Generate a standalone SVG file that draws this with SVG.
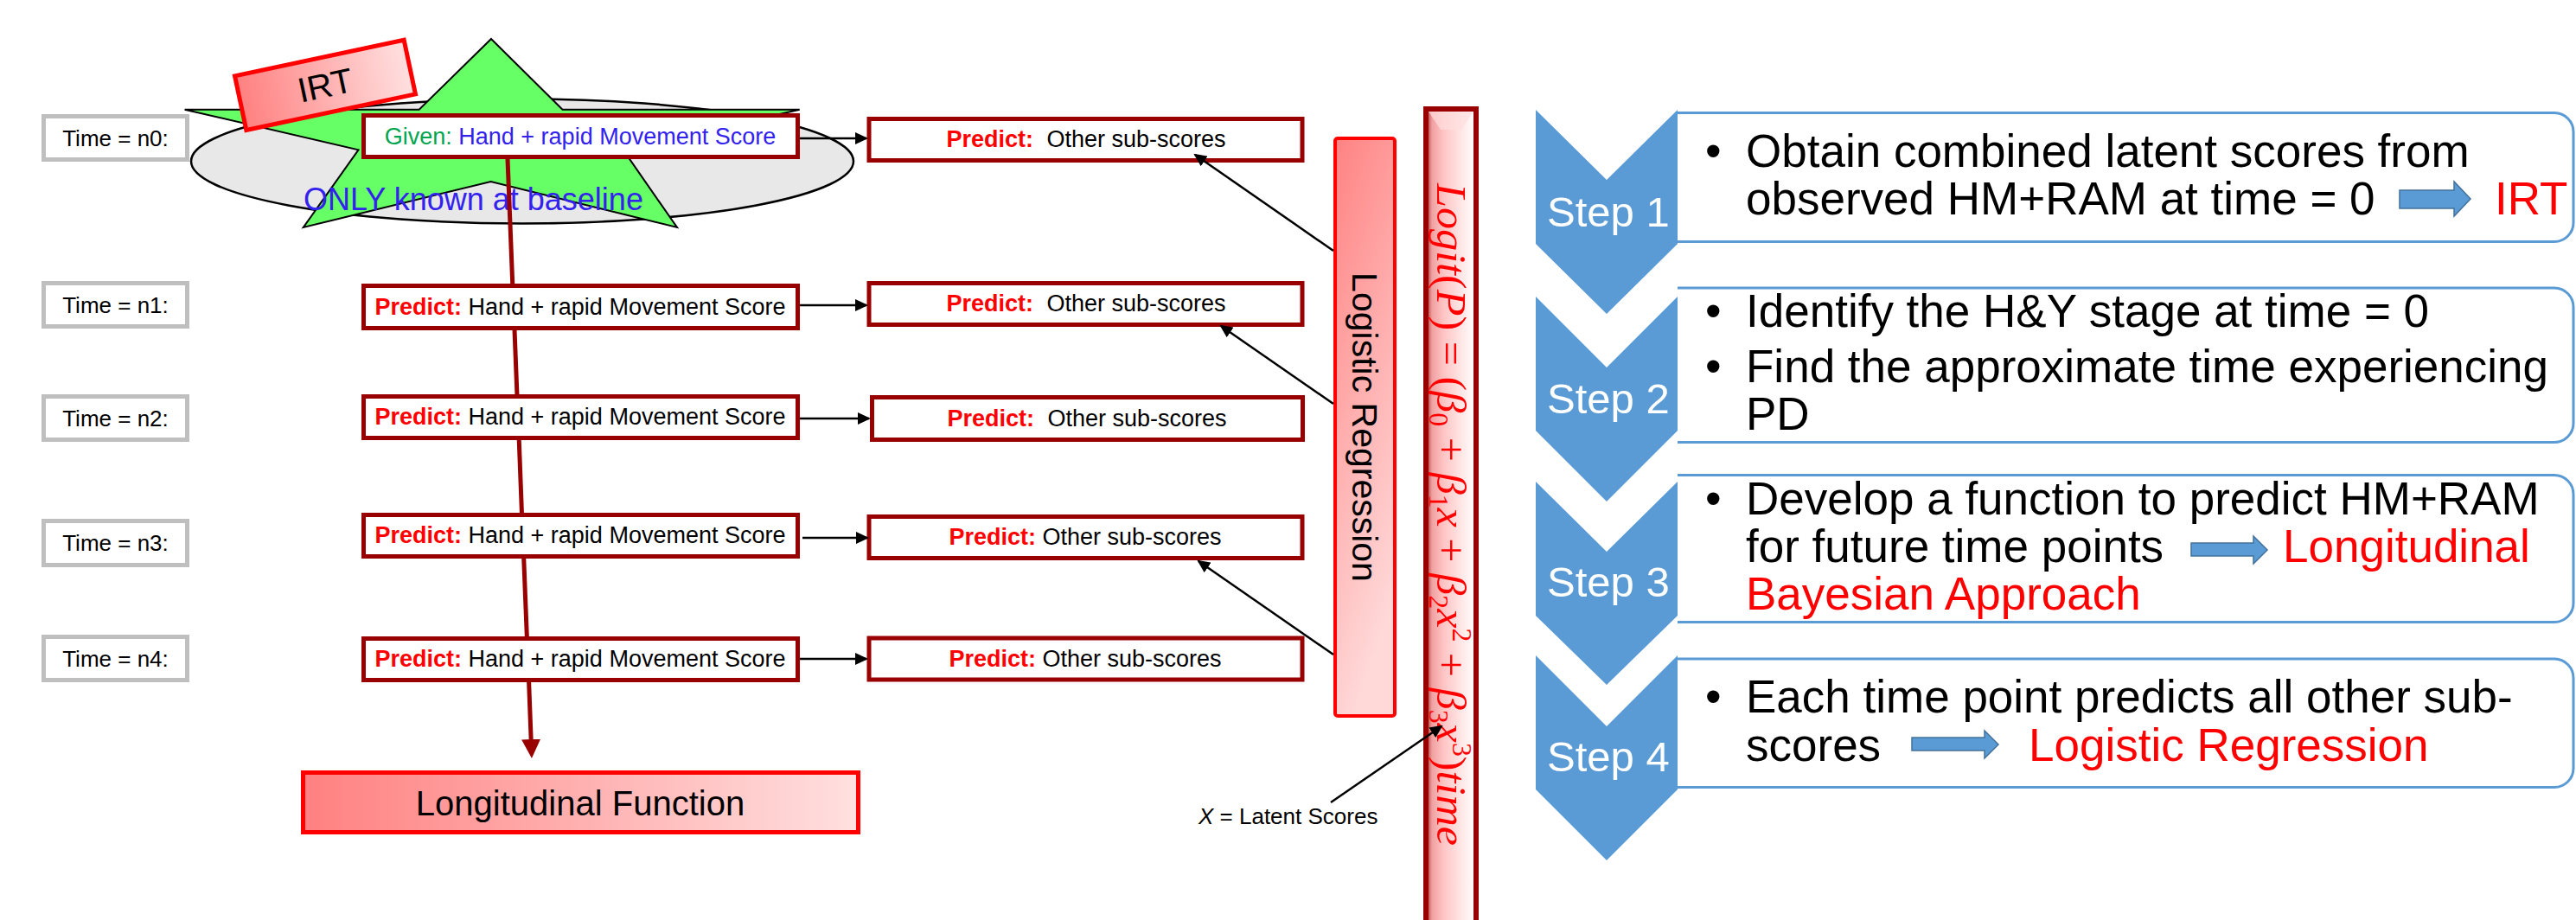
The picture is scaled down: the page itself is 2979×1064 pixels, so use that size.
<svg xmlns="http://www.w3.org/2000/svg" width="2979" height="1064" viewBox="0 0 2979 1064">
<defs>
<style>
text{font-family:"Liberation Sans",Arial,sans-serif;}
.timebox{fill:#fff;stroke:#bfbfbf;stroke-width:5;}
.hmbox{fill:#fff;stroke:#990000;stroke-width:5;}
.tl{font-size:26px;fill:#000;text-anchor:middle;}
.bt{font-size:27px;fill:#000;text-anchor:middle;}
.pred{font-weight:bold;fill:#ff0000;}
.blue{fill:#3322ee;}
.green{fill:#00a550;}
.conn{stroke:#000;stroke-width:2.5;fill:none;}
.long{stroke:#990000;stroke-width:5;fill:none;}
.chev{fill:#5b9bd5;}
.stepbox{fill:#fff;stroke:#5b9bd5;stroke-width:3;}
.steplabel{font-size:49px;fill:#fff;}
.body{font-size:53px;fill:#000;}
.red{fill:#ff0000;}
.barrow{fill:#5b9bd5;stroke:#41719c;stroke-width:1.5;}
.eq{font-family:"Liberation Serif","Times New Roman",serif;font-style:italic;font-size:49px;fill:#ff0000;}
.up{font-style:normal;}
.sub{font-style:normal;font-size:31px;}
</style>
<linearGradient id="gRed" x1="0" y1="0" x2="1" y2="0"><stop offset="0" stop-color="#ff8080"/><stop offset="1" stop-color="#ffe0e0"/></linearGradient>
<linearGradient id="gLR" x1="0" y1="0" x2="0.3" y2="1"><stop offset="0" stop-color="#ff8282"/><stop offset="1" stop-color="#ffd8d8"/></linearGradient>
<linearGradient id="gLogit" x1="0" y1="0" x2="1" y2="0"><stop offset="0" stop-color="#a82828"/><stop offset="0.12" stop-color="#f0a0a0"/><stop offset="0.35" stop-color="#ffc4c4"/><stop offset="0.7" stop-color="#ffe6e6"/><stop offset="1" stop-color="#ffffff"/></linearGradient>
<marker id="ahBlack" markerUnits="userSpaceOnUse" markerWidth="16" markerHeight="14" refX="13" refY="7" orient="auto"><path d="M0,0 L15,7 L0,14 z" fill="#000"/></marker>
<marker id="ahRed" markerUnits="userSpaceOnUse" markerWidth="24" markerHeight="24" refX="2" refY="11" orient="auto"><path d="M0,0 L22,11 L0,22 z" fill="#990000"/></marker>
</defs>
<rect width="2979" height="1064" fill="#fff"/>

<g id="baseline-marker">
<ellipse cx="604" cy="186.5" rx="383" ry="72" fill="#e8e8e8" stroke="#000" stroke-width="2.5"/>
<polygon points="568,45 650.5,126.7 924.7,126.7 720.7,173.3 783,263 567.6,210 350.8,263 414.5,173.3 213.6,126.7 484.7,126.7" fill="#66ff66" stroke="#000" stroke-width="2"/>
</g>

<g id="irt">
<g transform="translate(376,98.4) rotate(-12)">
<rect x="-100" y="-32" width="200" height="64" fill="url(#gRed)" stroke="#ff0000" stroke-width="5"/>
<text x="0" y="14" font-size="40" text-anchor="middle" fill="#000">IRT</text>
</g>
</g>

<g id="time-n0"><rect class="timebox" x="50.5" y="134.5" width="166" height="50"/><text class="tl" x="133.5" y="168.5">Time = n0:</text></g>
<g id="time-n1"><rect class="timebox" x="50.5" y="327.5" width="166" height="50"/><text class="tl" x="133.5" y="361.5">Time = n1:</text></g>
<g id="time-n2"><rect class="timebox" x="50.5" y="458.5" width="166" height="50"/><text class="tl" x="133.5" y="492.5">Time = n2:</text></g>
<g id="time-n3"><rect class="timebox" x="50.5" y="602.5" width="166" height="51"/><text class="tl" x="133.5" y="637">Time = n3:</text></g>
<g id="time-n4"><rect class="timebox" x="50.5" y="736.5" width="166" height="50"/><text class="tl" x="133.5" y="770.5">Time = n4:</text></g>

<g id="hm-n0"><rect class="hmbox" x="420.5" y="133.5" width="502" height="48"/><text class="bt" x="671" y="166.5"><tspan class="green">Given: </tspan><tspan class="blue">Hand + rapid Movement Score</tspan></text></g>
<g id="hm-n1"><rect class="hmbox" x="420.5" y="330.5" width="502" height="49"/><text class="bt" x="671" y="364"><tspan class="pred">Predict:</tspan> Hand + rapid Movement Score</text></g>
<g id="hm-n2"><rect class="hmbox" x="420.5" y="458.5" width="502" height="48"/><text class="bt" x="671" y="491"><tspan class="pred">Predict:</tspan> Hand + rapid Movement Score</text></g>
<g id="hm-n3"><rect class="hmbox" x="420.5" y="595.5" width="502" height="48"/><text class="bt" x="671" y="628"><tspan class="pred">Predict:</tspan> Hand + rapid Movement Score</text></g>
<g id="hm-n4"><rect class="hmbox" x="420.5" y="738.5" width="502" height="48"/><text class="bt" x="671" y="771"><tspan class="pred">Predict:</tspan> Hand + rapid Movement Score</text></g>

<g id="baseline-label"><text x="351" y="243" font-size="36" class="blue">ONLY known at baseline</text></g>

<g id="other-n0"><rect class="hmbox" x="1005" y="137.5" width="501" height="48"/><text class="bt" x="1256" y="170"><tspan class="pred">Predict:</tspan><tspan dx="8"> Other sub-scores</tspan></text></g>
<g id="other-n1"><rect class="hmbox" x="1005" y="327.5" width="501" height="48"/><text class="bt" x="1256" y="360"><tspan class="pred">Predict:</tspan><tspan dx="8"> Other sub-scores</tspan></text></g>
<g id="other-n2"><rect class="hmbox" x="1008.5" y="459.5" width="498" height="49"/><text class="bt" x="1257" y="492.5"><tspan class="pred">Predict:</tspan><tspan dx="8"> Other sub-scores</tspan></text></g>
<g id="other-n3"><rect class="hmbox" x="1005" y="597.5" width="501" height="48"/><text class="bt" x="1255" y="630"><tspan class="pred">Predict:</tspan> Other sub-scores</text></g>
<g id="other-n4"><rect class="hmbox" x="1005" y="738" width="501" height="48"/><text class="bt" x="1255" y="770.5"><tspan class="pred">Predict:</tspan> Other sub-scores</text></g>

<g id="longitudinal-function"><rect x="350.5" y="893.5" width="642" height="69" fill="url(#gRed)" stroke="#ff0000" stroke-width="5"/><text x="671" y="943" font-size="40" text-anchor="middle" fill="#000">Longitudinal  Function</text></g>

<g id="logistic-regression"><rect x="1544" y="160" width="69" height="668" rx="3" fill="url(#gLR)" stroke="#ff0000" stroke-width="4"/><text transform="translate(1564,494) rotate(90)" font-size="41" text-anchor="middle" fill="#000">Logistic Regression</text></g>

<g id="logit-equation">
<rect x="1649" y="126" width="58" height="960" fill="url(#gLogit)" stroke="#990000" stroke-width="6"/>
<polygon points="1652,129 1704,129 1690,150 1666,150" fill="#ffdede" opacity="0.7"/>
<text class="eq" transform="translate(1662,212) rotate(90)" textLength="766" lengthAdjust="spacingAndGlyphs">Logit<tspan class="up">(</tspan>P<tspan class="up">) = (</tspan>β<tspan class="sub" dy="9">0</tspan><tspan class="up" dy="-9"> + </tspan>β<tspan class="sub" dy="9">1</tspan><tspan dy="-9">x</tspan><tspan class="up"> + </tspan>β<tspan class="sub" dy="9">2</tspan><tspan dy="-9">x</tspan><tspan class="sub" dy="-18">2</tspan><tspan class="up" dy="18"> + </tspan>β<tspan class="sub" dy="9">3</tspan><tspan dy="-9">x</tspan><tspan class="sub" dy="-18">3</tspan><tspan class="up" dy="18">)</tspan>time</text>
</g>

<g id="latent-label"><text x="1386" y="953" font-size="26" fill="#000"><tspan font-style="italic">X</tspan> = Latent Scores</text></g>

<g id="step-1">
<path class="stepbox" d="M1940,130.5 H2954 A22,22 0 0 1 2976,152.5 V257.5 A22,22 0 0 1 2954,279.5 H1940"/>
<path class="chev" d="M1776,127 L1858,208 L1940,127 L1940,282 L1858,363 L1776,282 Z"/>
<text class="steplabel" x="1789" y="262">Step 1</text>
<text class="body" x="1972" y="193">•</text>
<text class="body" x="2019" y="193">Obtain combined latent scores from</text>
<text class="body" x="2019" y="248">observed HM+RAM at time = 0</text>
<path class="barrow" d="M2775,220 H2838 V210 L2857,230 L2838,250 V241 H2775 Z"/>
<text class="body red" x="2885" y="248">IRT</text>
</g>

<g id="step-2">
<path class="stepbox" d="M1940,333 H2954 A22,22 0 0 1 2976,355 V489.5 A22,22 0 0 1 2954,511.5 H1940"/>
<path class="chev" d="M1776,343 L1858,425 L1940,343 L1940,498 L1858,580 L1776,498 Z"/>
<text class="steplabel" x="1789" y="478">Step 2</text>
<text class="body" x="1972" y="378">•</text>
<text class="body" x="2019" y="378">Identify the H&amp;Y stage at time = 0</text>
<text class="body" x="1972" y="442">•</text>
<text class="body" x="2019" y="442">Find the approximate time experiencing</text>
<text class="body" x="2019" y="497">PD</text>
</g>

<g id="step-3">
<path class="stepbox" d="M1940,549.5 H2954 A22,22 0 0 1 2976,571.5 V697.5 A22,22 0 0 1 2954,719.5 H1940"/>
<path class="chev" d="M1776,557 L1858,638 L1940,557 L1940,712 L1858,792 L1776,712 Z"/>
<text class="steplabel" x="1789" y="690">Step 3</text>
<text class="body" x="1972" y="595">•</text>
<text class="body" x="2019" y="595">Develop a function to predict HM+RAM</text>
<text class="body" x="2019" y="650">for future time points</text>
<path class="barrow" d="M2534,628 H2606 V620 L2622,636 L2606,652 V643 H2534 Z"/>
<text class="body red" x="2640" y="650">Longitudinal</text>
<text class="body red" x="2019" y="705">Bayesian Approach</text>
</g>

<g id="step-4">
<path class="stepbox" d="M1940,762 H2954 A22,22 0 0 1 2976,784 V888.5 A22,22 0 0 1 2954,910.5 H1940"/>
<path class="chev" d="M1776,758 L1858,840 L1940,758 L1940,913 L1858,995 L1776,913 Z"/>
<text class="steplabel" x="1789" y="892">Step 4</text>
<text class="body" x="1972" y="824">•</text>
<text class="body" x="2019" y="824">Each time point predicts all other sub-</text>
<text class="body" x="2019" y="880">scores</text>
<path class="barrow" d="M2211,853 H2295 V845 L2311,861 L2295,877 V868 H2211 Z"/>
<text class="body red" x="2346" y="880">Logistic Regression</text>
</g>

<g id="connectors">
<line class="long" x1="587" y1="184" x2="592.8" y2="330"/>
<line class="long" x1="595" y1="381" x2="598" y2="458"/>
<line class="long" x1="600.2" y1="508" x2="603.5" y2="595"/>
<line class="long" x1="605.7" y1="645" x2="609.4" y2="738"/>
<line class="long" x1="611.6" y1="788" x2="614.2" y2="857" marker-end="url(#ahRed)"/>
<line class="conn" x1="925" y1="160" x2="1002" y2="160" marker-end="url(#ahBlack)"/>
<line class="conn" x1="925" y1="353" x2="1002" y2="353" marker-end="url(#ahBlack)"/>
<line class="conn" x1="925" y1="484" x2="1005" y2="484" marker-end="url(#ahBlack)"/>
<line class="conn" x1="928" y1="622" x2="1003" y2="622" marker-end="url(#ahBlack)"/>
<line class="conn" x1="925" y1="762" x2="1002" y2="762" marker-end="url(#ahBlack)"/>
<line class="conn" x1="1542" y1="290" x2="1382" y2="179" marker-end="url(#ahBlack)"/>
<line class="conn" x1="1542" y1="467" x2="1412" y2="377" marker-end="url(#ahBlack)"/>
<line class="conn" x1="1542" y1="757" x2="1386" y2="649" marker-end="url(#ahBlack)"/>
<line class="conn" x1="1539" y1="928" x2="1667" y2="840" marker-end="url(#ahBlack)"/>
</g>
</svg>
